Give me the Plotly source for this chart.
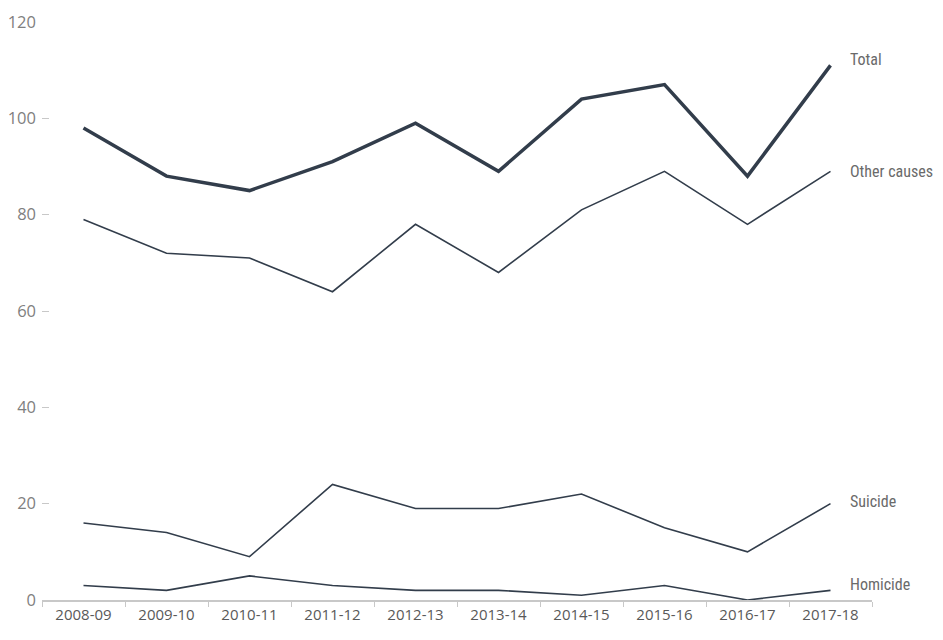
import plotly.graph_objects as go

years = ["2008-09", "2009-10", "2010-11", "2011-12", "2012-13",
         "2013-14", "2014-15", "2015-16", "2016-17", "2017-18"]
total = [98, 88, 85, 91, 99, 89, 104, 107, 88, 111]
other_causes = [79, 72, 71, 64, 78, 68, 81, 89, 78, 89]
suicide = [16, 14, 9, 24, 19, 19, 22, 15, 10, 20]
homicide = [3, 2, 5, 3, 2, 2, 1, 3, 0, 2]

LINE = "#323d4b"
NARROW = "Roboto Condensed, Liberation Sans Narrow, sans-serif"

series = [
    ("Total", total, 3.5, 6),
    ("Other causes", other_causes, 1.6, 0),
    ("Suicide", suicide, 1.6, 2),
    ("Homicide", homicide, 1.6, 6),
]

fig = go.Figure()
for name, vals, w, _ in series:
    fig.add_trace(go.Scatter(x=years, y=vals, mode="lines", name=name,
                             line=dict(color=LINE, width=w), cliponaxis=False))

for name, vals, _, shift in series:
    fig.add_annotation(x=years[-1], y=vals[-1], text=name, showarrow=False,
                       xanchor="left", xshift=17, yshift=shift,
                       font=dict(family=NARROW, size=16, color="#6a6a6a"))

# page body has an 8px margin, so the figure is a bit smaller than the window
fig.update_layout(
    width=935, height=632,
    margin=dict(l=34, r=71, t=14, b=40),
    paper_bgcolor="white", plot_bgcolor="white",
    showlegend=False,
    xaxis=dict(
        type="category", automargin=False,
        range=[-0.5, 9.5], showgrid=False, showline=True, linecolor="#c8c8c8",
        linewidth=2, ticks="outside", tickson="boundaries", ticklen=5,
        tickcolor="#c8c8c8", tickwidth=1,
        tickfont=dict(family="Open Sans, sans-serif", size=15, color="#595959"),
    ),
    yaxis=dict(
        automargin=False, ticklabeloverflow="allow",
        range=[0, 120], dtick=20, showgrid=False, showline=False, zeroline=False,
        ticks="inside", ticklen=7, tickcolor="#c8c8c8", tickwidth=1,
        ticklabelstandoff=5,
        tickfont=dict(family="Open Sans, sans-serif", size=16.5, color="#808080"),
    ),
)

fig.write_html("out.html")
